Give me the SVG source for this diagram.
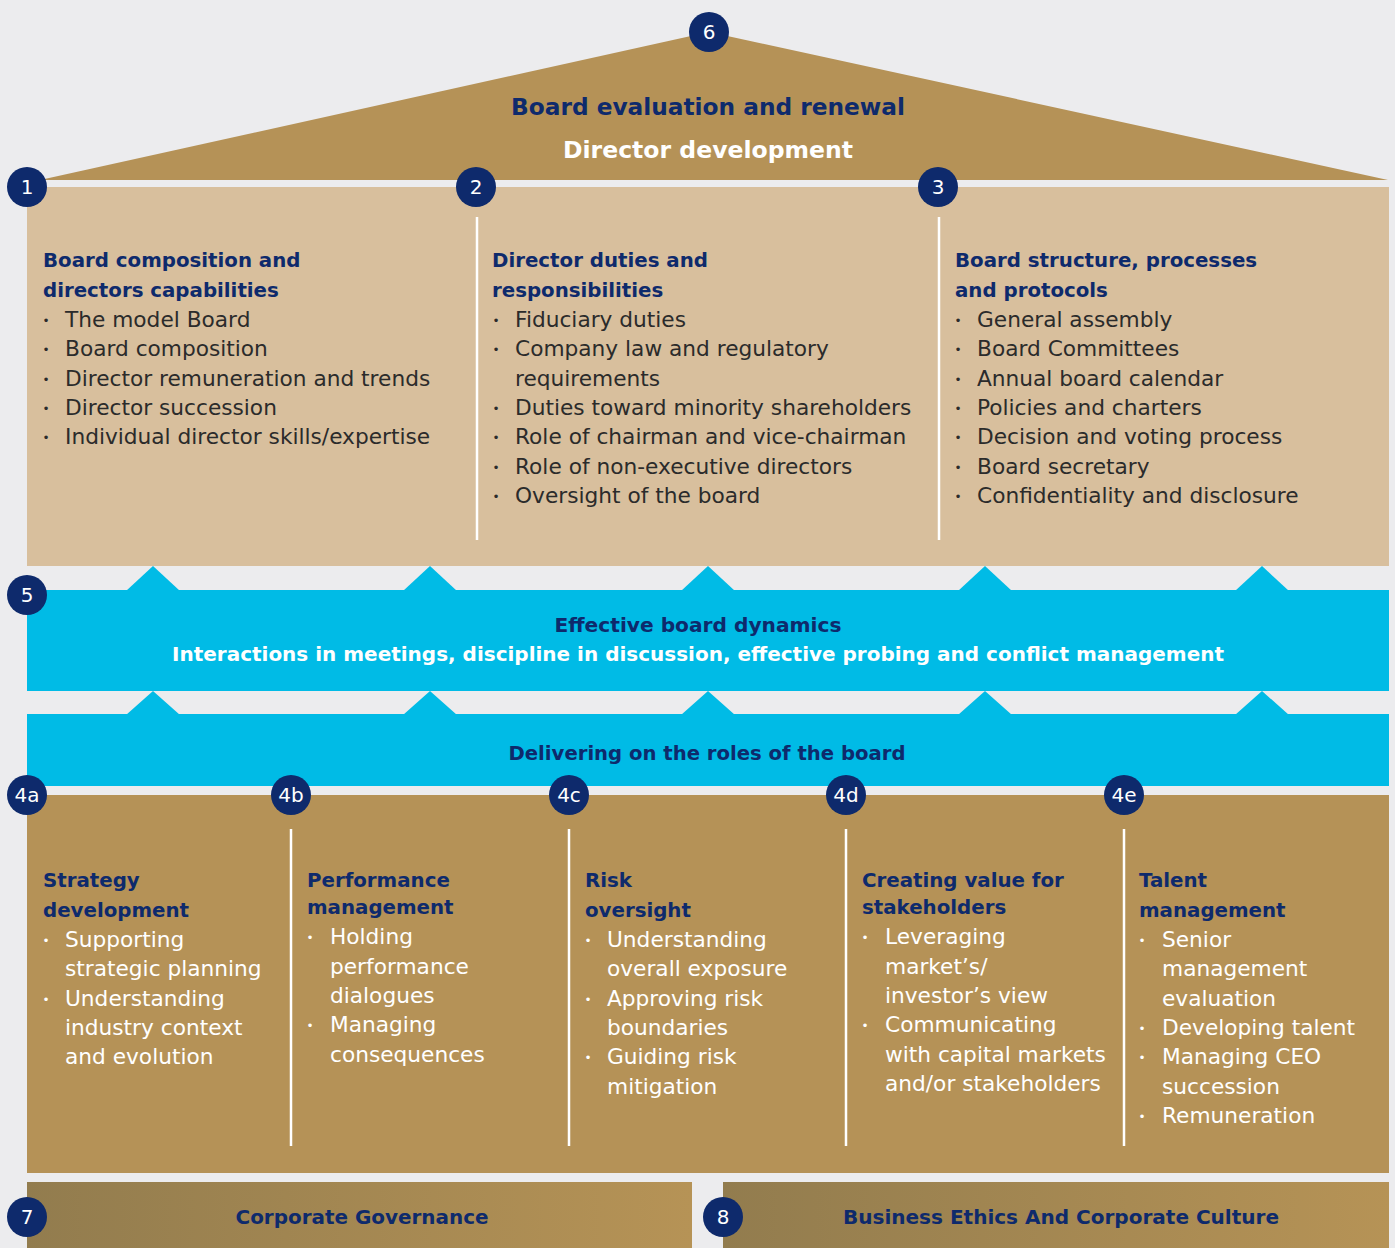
<svg xmlns="http://www.w3.org/2000/svg" width="1395" height="1248" viewBox="0 0 1395 1248">
<defs>
<linearGradient id="barGrad" x1="0" y1="0" x2="1" y2="0">
<stop offset="0" stop-color="#927c4e"/>
<stop offset="1" stop-color="#b69356"/>
</linearGradient>
<style>
.bg{fill:#ececee}
.gold{fill:#b59257}
.tan{fill:#d8bf9d}
.cyan{fill:#00bbe6}
.badge circle{fill:#0e2a6c}
.badge text{font-family:"DejaVu Sans","Liberation Sans",sans-serif;font-size:20px;fill:#ffffff;text-anchor:middle}
.div{stroke:#ffffff;stroke-width:2.5}
.hd{font-family:"DejaVu Sans","Liberation Sans",sans-serif;font-weight:bold;font-size:19.8px;fill:#0e2a6c}
.bt{font-family:"DejaVu Sans","Liberation Sans",sans-serif;font-size:21.7px;fill:#2b2b2b}
.bw{font-family:"DejaVu Sans","Liberation Sans",sans-serif;font-size:21.7px;fill:#ffffff}
.dot{font-family:"DejaVu Sans","Liberation Sans",sans-serif;font-size:12px;text-anchor:middle}
.title{font-family:"DejaVu Sans","Liberation Sans",sans-serif;font-weight:bold;text-anchor:middle}
</style>
</defs>
<rect class="bg" x="0" y="0" width="1395" height="1248"/>

<g id="roof">
<polygon class="gold" points="40,180 709,32 1388,180"/>
<text class="title" x="708" y="115" font-size="23.2px" fill="#0e2a6c" textLength="394" lengthAdjust="spacingAndGlyphs">Board evaluation and renewal</text>
<text class="title" x="708" y="158" font-size="23.2px" fill="#ffffff" textLength="290" lengthAdjust="spacingAndGlyphs">Director development</text>
<g class="badge"><circle cx="709" cy="32" r="20"/><text x="709" y="39">6</text></g>
</g>

<g id="top-panel">
<rect class="tan" x="27" y="187" width="1362" height="379"/>
<line class="div" x1="477" y1="217" x2="477" y2="540"/>
<line class="div" x1="939" y1="217" x2="939" y2="540"/>
</g>

<g id="node1">
<text class="hd" x="43" y="267">Board composition and</text>
<text class="hd" x="43" y="297">directors capabilities</text>
<g class="bt">
<text x="65" y="326.5">The model Board</text>
<text x="65" y="355.5">Board composition</text>
<text x="65" y="385.5">Director remuneration and trends</text>
<text x="65" y="414.5">Director succession</text>
<text x="65" y="443.5">Individual director skills/expertise</text>
</g>
<g class="dot" fill="#2b2b2b">
<text x="46" y="325">•</text><text x="46" y="354">•</text><text x="46" y="384">•</text><text x="46" y="413">•</text><text x="46" y="442">•</text>
</g>
<g class="badge"><circle cx="27" cy="187" r="20"/><text x="27" y="194">1</text></g>
</g>

<g id="node2">
<text class="hd" x="492" y="267">Director duties and</text>
<text class="hd" x="492" y="297">responsibilities</text>
<g class="bt">
<text x="515" y="326.5">Fiduciary duties</text>
<text x="515" y="355.5">Company law and regulatory</text>
<text x="515" y="385.5">requirements</text>
<text x="515" y="414.5">Duties toward minority shareholders</text>
<text x="515" y="443.5">Role of chairman and vice-chairman</text>
<text x="515" y="473.5">Role of non-executive directors</text>
<text x="515" y="502.5">Oversight of the board</text>
</g>
<g class="dot" fill="#2b2b2b">
<text x="496" y="325">•</text><text x="496" y="354">•</text><text x="496" y="413">•</text><text x="496" y="442">•</text><text x="496" y="472">•</text><text x="496" y="501">•</text>
</g>
<g class="badge"><circle cx="476" cy="187" r="20"/><text x="476" y="194">2</text></g>
</g>

<g id="node3">
<text class="hd" x="955" y="267">Board structure, processes</text>
<text class="hd" x="955" y="297">and protocols</text>
<g class="bt">
<text x="977" y="326.5">General assembly</text>
<text x="977" y="355.5">Board Committees</text>
<text x="977" y="385.5">Annual board calendar</text>
<text x="977" y="414.5">Policies and charters</text>
<text x="977" y="443.5">Decision and voting process</text>
<text x="977" y="473.5">Board secretary</text>
<text x="977" y="502.5">Confidentiality and disclosure</text>
</g>
<g class="dot" fill="#2b2b2b">
<text x="958" y="325">•</text><text x="958" y="354">•</text><text x="958" y="384">•</text><text x="958" y="413">•</text><text x="958" y="442">•</text><text x="958" y="472">•</text><text x="958" y="501">•</text>
</g>
<g class="badge"><circle cx="938" cy="187" r="20"/><text x="938" y="194">3</text></g>
</g>

<g id="connectors">
<polygon class="cyan" points="126,591 153,566 180,591"/>
<polygon class="cyan" points="403,591 430,566 457,591"/>
<polygon class="cyan" points="681,591 708,566 735,591"/>
<polygon class="cyan" points="958,591 985,566 1012,591"/>
<polygon class="cyan" points="1235,591 1262,566 1289,591"/>
<polygon class="cyan" points="126,715 153,691 180,715"/>
<polygon class="cyan" points="403,715 430,691 457,715"/>
<polygon class="cyan" points="681,715 708,691 735,715"/>
<polygon class="cyan" points="958,715 985,691 1012,715"/>
<polygon class="cyan" points="1235,715 1262,691 1289,715"/>
</g>

<g id="node5">
<rect class="cyan" x="27" y="590" width="1362" height="101"/>
<text class="title" x="698" y="632" font-size="20px" fill="#0e2a6c" textLength="287" lengthAdjust="spacingAndGlyphs">Effective board dynamics</text>
<text class="title" x="698" y="661" font-size="20px" fill="#ffffff" textLength="1052" lengthAdjust="spacingAndGlyphs">Interactions in meetings, discipline in discussion, effective probing and conflict management</text>
<g class="badge"><circle cx="27" cy="595" r="20"/><text x="27" y="602">5</text></g>
</g>

<g id="node4">
<rect class="cyan" x="27" y="714" width="1362" height="72"/>
<text class="title" x="707" y="760" font-size="20px" fill="#0e2a6c" textLength="397" lengthAdjust="spacingAndGlyphs">Delivering on the roles of the board</text>
<rect class="gold" x="27" y="795" width="1362" height="378"/>
<line class="div" x1="291" y1="829" x2="291" y2="1146"/>
<line class="div" x1="569" y1="829" x2="569" y2="1146"/>
<line class="div" x1="846" y1="829" x2="846" y2="1146"/>
<line class="div" x1="1124" y1="829" x2="1124" y2="1146"/>
</g>

<g id="node4a">
<text class="hd" x="43" y="887">Strategy</text>
<text class="hd" x="43" y="917">development</text>
<g class="bw">
<text x="65" y="946.5">Supporting</text>
<text x="65" y="975.5">strategic planning</text>
<text x="65" y="1005.5">Understanding</text>
<text x="65" y="1034.5">industry context</text>
<text x="65" y="1063.5">and evolution</text>
</g>
<g class="dot" fill="#ffffff"><text x="46" y="945">•</text><text x="46" y="1004">•</text></g>
<g class="badge"><circle cx="27" cy="795" r="20"/><text x="27" y="802">4a</text></g>
</g>

<g id="node4b">
<text class="hd" x="307" y="887">Performance</text>
<text class="hd" x="307" y="914">management</text>
<g class="bw">
<text x="330" y="943.5">Holding</text>
<text x="330" y="973.5">performance</text>
<text x="330" y="1002.5">dialogues</text>
<text x="330" y="1031.5">Managing</text>
<text x="330" y="1061.5">consequences</text>
</g>
<g class="dot" fill="#ffffff"><text x="310" y="942">•</text><text x="310" y="1030">•</text></g>
<g class="badge"><circle cx="291" cy="795" r="20"/><text x="291" y="802">4b</text></g>
</g>

<g id="node4c">
<text class="hd" x="585" y="887">Risk</text>
<text class="hd" x="585" y="917">oversight</text>
<g class="bw">
<text x="607" y="946.5">Understanding</text>
<text x="607" y="975.5">overall exposure</text>
<text x="607" y="1005.5">Approving risk</text>
<text x="607" y="1034.5">boundaries</text>
<text x="607" y="1063.5">Guiding risk</text>
<text x="607" y="1093.5">mitigation</text>
</g>
<g class="dot" fill="#ffffff"><text x="588" y="945">•</text><text x="588" y="1004">•</text><text x="588" y="1062">•</text></g>
<g class="badge"><circle cx="569" cy="795" r="20"/><text x="569" y="802">4c</text></g>
</g>

<g id="node4d">
<text class="hd" x="862" y="887">Creating value for</text>
<text class="hd" x="862" y="914">stakeholders</text>
<g class="bw">
<text x="885" y="943.5">Leveraging</text>
<text x="885" y="973.5">market’s/</text>
<text x="885" y="1002.5">investor’s view</text>
<text x="885" y="1031.5">Communicating</text>
<text x="885" y="1061.5">with capital markets</text>
<text x="885" y="1090.5">and/or stakeholders</text>
</g>
<g class="dot" fill="#ffffff"><text x="865" y="942">•</text><text x="865" y="1030">•</text></g>
<g class="badge"><circle cx="846" cy="795" r="20"/><text x="846" y="802">4d</text></g>
</g>

<g id="node4e">
<text class="hd" x="1139" y="887">Talent</text>
<text class="hd" x="1139" y="917">management</text>
<g class="bw">
<text x="1162" y="946.5">Senior</text>
<text x="1162" y="975.5">management</text>
<text x="1162" y="1005.5">evaluation</text>
<text x="1162" y="1034.5">Developing talent</text>
<text x="1162" y="1063.5">Managing CEO</text>
<text x="1162" y="1093.5">succession</text>
<text x="1162" y="1122.5">Remuneration</text>
</g>
<g class="dot" fill="#ffffff"><text x="1142" y="945">•</text><text x="1142" y="1033">•</text><text x="1142" y="1062">•</text><text x="1142" y="1121">•</text></g>
<g class="badge"><circle cx="1124" cy="795" r="20"/><text x="1124" y="802">4e</text></g>
</g>

<g id="node7">
<rect x="27" y="1182" width="665" height="66" fill="url(#barGrad)"/>
<text class="title" x="362" y="1224" font-size="20px" fill="#0e2a6c" textLength="253" lengthAdjust="spacingAndGlyphs">Corporate Governance</text>
<g class="badge"><circle cx="27" cy="1217" r="20"/><text x="27" y="1224">7</text></g>
</g>

<g id="node8">
<rect x="723" y="1182" width="666" height="66" fill="url(#barGrad)"/>
<text class="title" x="1061" y="1224" font-size="20px" fill="#0e2a6c" textLength="436" lengthAdjust="spacingAndGlyphs">Business Ethics And Corporate Culture</text>
<g class="badge"><circle cx="723" cy="1217" r="20"/><text x="723" y="1224">8</text></g>
</g>
</svg>
